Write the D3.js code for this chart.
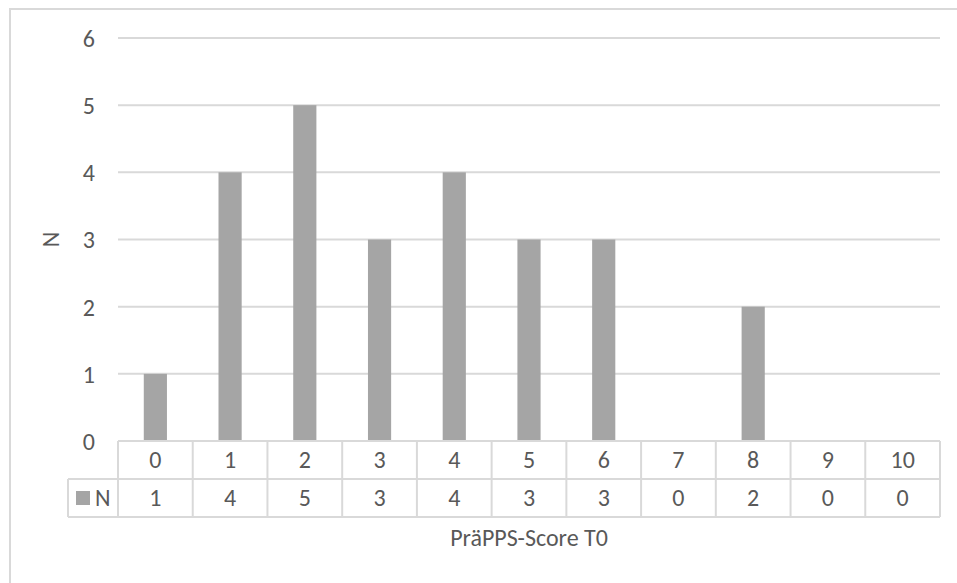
<!DOCTYPE html>
<html>
<head>
<meta charset="utf-8">
<script src="https://cdn.jsdelivr.net/npm/d3@7"></script>
<style>
  html, body { margin: 0; padding: 0; background: #fff; }
  svg { display: block; }
  text { font-family: Carlito, Calibri, Lato, "Open Sans", sans-serif; fill: #595959; }
</style>
</head>
<body>
<svg id="chart" width="957" height="583"></svg>
<script>
const categories = ["0","1","2","3","4","5","6","7","8","9","10"];
const values = [1,4,5,3,4,3,3,0,2,0,0];
const yTicks = [0,1,2,3,4,5,6];
const seriesName = "N";
const xTitle = "PräPPS-Score T0";
const yTitle = "N";

(function () {
const W = 957, H = 583;
const fontSize = 24;
const grid = "#d9d9d9";
const barColor = "#a5a5a5";
const pLeft = 118, pRight = 940, pTop = 38, pBottom = 441;
const rowH = 38;

const svg = d3.select("#chart");

// outer frame
svg.append("rect").attr("x", 10).attr("y", 9).attr("width", W + 10).attr("height", H + 10)
  .attr("fill", "none").attr("stroke", grid).attr("stroke-width", 2);

const x = d3.scaleBand().domain(categories).range([pLeft, pRight]);
const y = d3.scaleLinear().domain([0, 6]).range([pBottom, pTop]);

// gridlines
svg.append("g").selectAll("line").data(yTicks.filter(t => t > 0)).join("line")
  .attr("x1", pLeft).attr("x2", pRight)
  .attr("y1", d => y(d)).attr("y2", d => y(d))
  .attr("stroke", grid).attr("stroke-width", 2);

// y axis tick labels
const yAxis = d3.axisLeft(y).tickValues(yTicks).tickFormat(d3.format("d")).tickSize(0).tickPadding(0);
const gy = svg.append("g").attr("transform", `translate(95,0)`).call(yAxis);
gy.attr("font-family", null).attr("font-size", null);
gy.select(".domain").remove();
gy.selectAll("text").attr("font-size", fontSize).attr("fill", "#595959").attr("dy", "0.35em");

// bars
const bw = x.bandwidth() * 0.31;
svg.append("g").selectAll("rect").data(values).join("rect")
  .attr("x", (d, i) => x(categories[i]) + x.bandwidth() / 2 - bw / 2)
  .attr("width", bw)
  .attr("y", d => y(d))
  .attr("height", d => y(0) - y(d))
  .attr("fill", barColor);

// data table
const t = svg.append("g");
const r1 = pBottom, r2 = pBottom + rowH, r3 = pBottom + 2 * rowH;
const tableLeft = 68;
const hl = [[pLeft, r1], [tableLeft, r2], [tableLeft, r3]];
t.selectAll("line.h").data(hl).join("line").attr("class", "h")
  .attr("x1", d => d[0]).attr("x2", pRight).attr("y1", d => d[1]).attr("y2", d => d[1])
  .attr("stroke", grid).attr("stroke-width", 2);
const edges = categories.map(c => x(c)).concat([pRight]);
t.selectAll("line.v").data(edges).join("line").attr("class", "v")
  .attr("x1", d => d).attr("x2", d => d).attr("y1", r1).attr("y2", r3)
  .attr("stroke", grid).attr("stroke-width", 2);
t.append("line").attr("x1", tableLeft).attr("x2", tableLeft).attr("y1", r2).attr("y2", r3)
  .attr("stroke", grid).attr("stroke-width", 2);

t.selectAll("text.cat").data(categories).join("text").attr("class", "cat")
  .attr("x", d => x(d) + x.bandwidth() / 2).attr("y", (r1 + r2) / 2)
  .attr("dy", "0.35em").attr("text-anchor", "middle").attr("font-size", fontSize).text(d => d);
t.selectAll("text.val").data(values).join("text").attr("class", "val")
  .attr("x", (d, i) => x(categories[i]) + x.bandwidth() / 2).attr("y", (r2 + r3) / 2)
  .attr("dy", "0.35em").attr("text-anchor", "middle").attr("font-size", fontSize).text(d => d);

// legend key in table
t.append("rect").attr("x", 76).attr("y", (r2 + r3) / 2 - 7).attr("width", 14).attr("height", 14).attr("fill", barColor);
t.append("text").attr("x", 95).attr("y", (r2 + r3) / 2).attr("dy", "0.35em")
  .attr("font-size", fontSize).text(seriesName);

// axis titles
svg.append("text").attr("x", (pLeft + pRight) / 2).attr("y", 538).attr("dy", "0.35em")
  .attr("text-anchor", "middle").attr("font-size", fontSize).text(xTitle);
svg.append("text").attr("transform", `translate(51,${(pTop + pBottom) / 2}) rotate(-90)`)
  .attr("dy", "0.35em").attr("text-anchor", "middle").attr("font-size", fontSize).text(yTitle);
})();
</script>
</body>
</html>
